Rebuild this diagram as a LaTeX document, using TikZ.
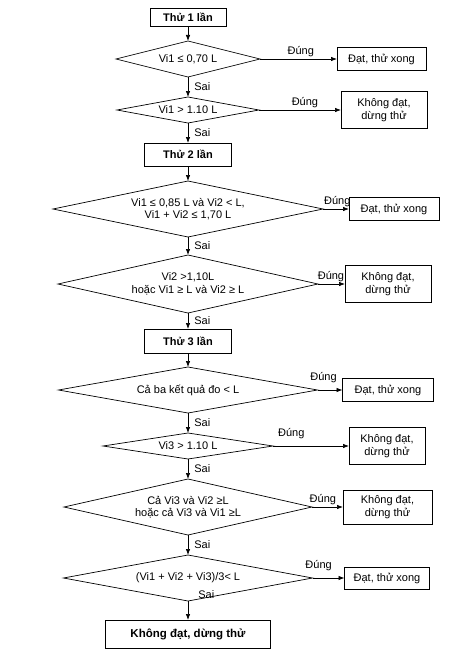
\documentclass[tikz,border=0pt]{standalone}
\usepackage{fontspec}
\setmainfont{Liberation Sans}
\usetikzlibrary{arrows.meta, positioning, shapes.geometric}
\tikzset{
  ->,
  >={Latex[length=6pt,width=4.5pt]},
  auto,
  x=1pt, y=1pt,
  every node/.style={font=\fontsize{11}{12.5}\selectfont, inner sep=2pt},
  every edge/.style={draw, line width=0.7pt},
  stage/.style={draw, line width=0.7pt, outer sep=0pt, font=\fontsize{11}{12.5}\selectfont\bfseries,
    minimum width=87pt, minimum height=23pt},
  verdict/.style={draw, line width=0.7pt, outer sep=0pt, align=center, minimum width=88pt,
    minimum height=23pt, inner xsep=3pt, inner ysep=3pt},
  test/.style 2 args={diamond, draw, line width=0.7pt, outer sep=0pt, align=center, inner sep=0pt,
    minimum width=#1pt, minimum height=#2pt,
    /utils/exec={\pgfmathsetmacro\testaspect{#1/#2}}, aspect=\testaspect},
  sai/.style={xshift=4pt}
}

\begin{document}
\begin{tikzpicture}
    \useasboundingbox (0,0) rectangle (462,-653);

    % main column
    \node[stage, minimum width=76pt, minimum height=18pt] (T1) at (188,-17) {Thử 1 lần};
    \node[test={144}{36}] (Q1) [below=15pt of T1] {Vi1 ≤ 0,70 L};
    \node[test={142}{26}] (Q2) [below=20pt of Q1] {Vi1 > 1.10 L};
    \node[stage] (T2) [below=20pt of Q2] {Thử 2 lần};
    \node[test={270}{56}] (Q3) [below=15pt of T2] {Vi1 ≤ 0,85 L và Vi2 < L,\\Vi1 + Vi2 ≤ 1,70 L};
    \node[test={260}{58}] (Q4) [below=18pt of Q3] {Vi2 >1,10L\\hoặc Vi1 ≥ L và Vi2 ≥ L};
    \node[stage, minimum height=24pt] (T3) [below=16pt of Q4] {Thử 3 lần};
    \node[test={259}{46}] (Q5) [below=14pt of T3] {Cả ba kết quả đo < L};
    \node[test={170}{26}] (Q6) [below=20pt of Q5] {Vi3 > 1.10 L};
    \node[test={248}{56}] (Q7) [below=20pt of Q6] {Cả Vi3 và Vi2 ≥L\\hoặc cả Vi3 và Vi1 ≥L};
    \node[test={249}{46}] (Q8) [below=20pt of Q7] {(Vi1 + Vi2 + Vi3)/3< L};
    \node[stage, minimum width=165pt, minimum height=28pt,
      font=\fontsize{11.5}{13}\selectfont\bfseries] (F) [below=19pt of Q8] {Không đạt, dừng thử};

    % results on the right
    \node[verdict, minimum width=89pt] (R1) [right=77pt of Q1] {Đạt, thử xong};
    \node[verdict, minimum width=86pt, minimum height=37pt] (R2) [right=82pt of Q2] {Không đạt,\\dừng thử};
    \node[verdict, minimum width=90pt] (R3) [right=26pt of Q3] {Đạt, thử xong};
    \node[verdict, minimum width=86pt, minimum height=37pt] (R4) [right=27pt of Q4] {Không đạt,\\dừng thử};
    \node[verdict, minimum width=91pt] (R5) [right=25pt of Q5] {Đạt, thử xong};
    \node[verdict, minimum width=76pt, minimum height=37pt] (R6) [right=76pt of Q6] {Không đạt,\\dừng thử};
    \node[verdict, minimum width=89pt, minimum height=34pt] (R7) [right=31pt of Q7] {Không đạt,\\dừng thử};
    \node[verdict, minimum width=85pt, minimum height=22pt] (R8) [right=32pt of Q8] {Đạt, thử xong};

    \path
    (T1) edge (Q1)
    (Q1)
      edge node[pos=0.53] {Đúng} (R1)
      edge node[sai] {Sai} (Q2)
    (Q2)
      edge node[pos=0.56] {Đúng} (R2)
      edge node[sai] {Sai} (T2)
    (T2) edge (Q3)
    (Q3)
      edge node[pos=0.55] {Đúng} (R3)
      edge node[sai] {Sai} (Q4)
    (Q4)
      edge node[pos=0.48] {Đúng} (R4)
      edge node[sai] {Sai} (T3)
    (T3) edge (Q5)
    (Q5)
      edge node[pos=0.24, yshift=5pt] {Đúng} (R5)
      edge node[sai] {Sai} (Q6)
    (Q6)
      edge node[pos=0.24, yshift=5pt] {Đúng} (R6)
      edge node[sai] {Sai} (Q7)
    (Q7)
      edge node[pos=0.35] {Đúng} (R7)
      edge node[sai] {Sai} (Q8)
    (Q8)
      edge node[pos=0.19, yshift=5pt] {Đúng} (R8)
      edge node[pos=0, above right, xshift=8pt] {Sai} (F)
    ;
\end{tikzpicture}
\end{document}
